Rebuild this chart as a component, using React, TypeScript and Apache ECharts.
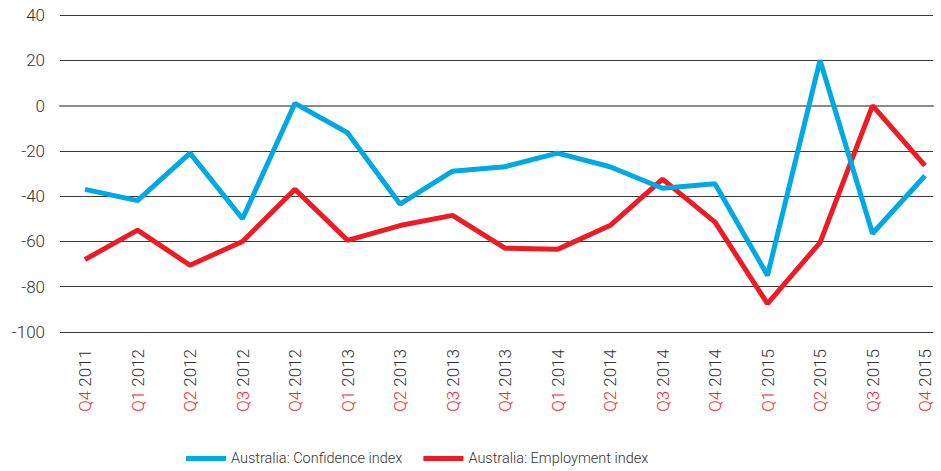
import React, { useEffect, useRef } from "react";
import * as echarts from "echarts";

const quarters = ["Q4", "Q1", "Q2", "Q3", "Q4", "Q1", "Q2", "Q3", "Q4", "Q1", "Q2", "Q3", "Q4", "Q1", "Q2", "Q3", "Q4"];
const years = ["2011", "2012", "2012", "2012", "2012", "2013", "2013", "2013", "2013", "2014", "2014", "2014", "2014", "2015", "2015", "2015", "2015"];
const categories = quarters.map((q, i) => q + " " + years[i]);
const confidence = [-37, -42, -21, -50, 1, -12, -43.5, -29, -27, -21, -27, -36.5, -34.5, -75, 20, -56.5, -31];
const employment = [-68, -55, -70.5, -60, -37, -59.5, -53, -48.5, -63, -63.5, -53, -32.5, -51.5, -87.5, -60.5, 0, -26.5];
const yTicks = { min: -100, max: 40, interval: 20 };

export default function App() {
  const ref = useRef<HTMLDivElement>(null);
  useEffect(() => {
    document.body.style.margin = "0";
    const chart = echarts.init(ref.current!, undefined, { renderer: "svg" });
    const font = "Roboto, Lato, sans-serif";
    const fw = 300;
    chart.setOption({
      animation: false,
      legend: {
        left: 181,
        top: 446,
        icon: "rect",
        itemWidth: 40,
        itemHeight: 5,
        itemGap: 21,
        textStyle: { fontFamily: font, fontWeight: fw, fontSize: 14.5, color: "#333" },
        data: ["Australia: Confidence index", "Australia: Employment index"],
      },
      grid: [
        { left: 85, right: 16, top: 15, bottom: 139 },
        { left: 60, right: 8, top: 15, bottom: 139 },
      ],
      xAxis: [
        {
          type: "category",
          gridIndex: 0,
          data: categories,
          boundaryGap: false,
          axisLine: { show: false },
          axisTick: { show: false },
          axisLabel: {
            rotate: 90,
            margin: 17,
            interval: 0,
            fontFamily: font,
            fontSize: 17,
            fontWeight: fw,
            formatter: (v: string) => {
              const [q, y] = v.split(" ");
              return "{q|" + q + "} {y|" + y + "}";
            },
            rich: {
              q: { color: "#ee2a2e", fontFamily: font, fontSize: 17, fontWeight: fw },
              y: { color: "#333", fontFamily: font, fontSize: 17, fontWeight: fw },
            },
          },
        },
        {
          type: "value",
          gridIndex: 1,
          min: 0,
          max: 1,
          axisLine: { show: true, lineStyle: { color: "#8a8a8a", width: 2 } },
          axisTick: { show: false },
          axisLabel: { show: false },
          splitLine: { show: false },
        },
      ],
      yAxis: [
        {
          type: "value",
          gridIndex: 0,
          ...yTicks,
          axisLabel: { show: false },
          axisLine: { show: false },
          axisTick: { show: false },
          splitLine: { show: false },
        },
        {
          type: "value",
          gridIndex: 1,
          ...yTicks,
          axisLine: { show: false },
          axisTick: { show: false },
          axisLabel: { margin: 15, fontFamily: font, fontWeight: fw, fontSize: 17, color: "#333" },
          splitLine: { show: true, lineStyle: { color: "#3a3a3a", width: 1 } },
        },
      ],
      series: [
        {
          name: "Australia: Confidence index",
          type: "line",
          xAxisIndex: 0,
          yAxisIndex: 0,
          data: confidence,
          symbol: "none",
          lineStyle: { color: "#00a9e2", width: 5 },
          itemStyle: { color: "#00a9e2" },
          z: 3,
        },
        {
          name: "Australia: Employment index",
          type: "line",
          xAxisIndex: 0,
          yAxisIndex: 0,
          data: employment,
          symbol: "none",
          lineStyle: { color: "#ed1c24", width: 5 },
          itemStyle: { color: "#ed1c24" },
          z: 2,
        },
      ],
    });
    return () => chart.dispose();
  }, []);
  return <div ref={ref} style={{ width: 941, height: 471 }} />;
}
